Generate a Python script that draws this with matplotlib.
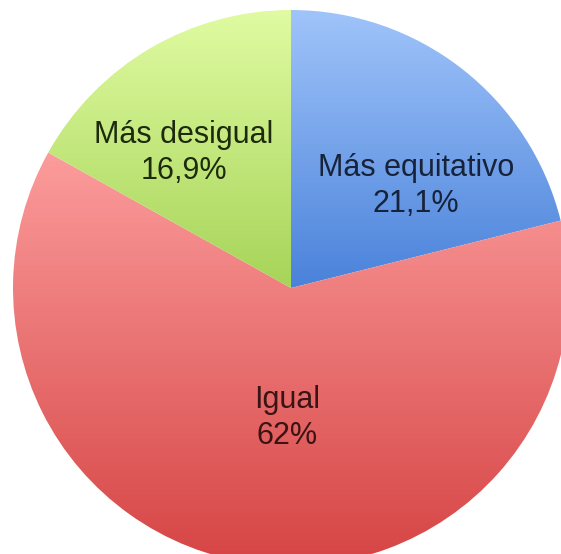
import numpy as np
import matplotlib.pyplot as plt
from matplotlib.colors import LinearSegmentedColormap

labels = ['Más equitativo', 'Igual', 'Más desigual']
values = [21.1, 62.0, 16.9]
pct_text = ['21,1%', '62%', '16,9%']

# gradient colours (top, bottom) for each slice
grad_top = ['#a0c4fa', '#fc9c9c', '#e0fba2']
grad_bot = ['#4a82da', '#d64444', '#a6d458']
text_col = ['#16233a', '#3a1414', '#1e2a0c']

# pixel layout of the original picture
W, H = 561, 554
cx, cy, R = 291, 288, 278
label_px = [(416, 186), (287, 418), (184, 153)]

fig = plt.figure(figsize=(W / 100, H / 100), dpi=100)
ax = fig.add_axes([0, 0, 1, 1])

wedges, _ = ax.pie(values, startangle=90, counterclock=False, radius=1,
                   wedgeprops=dict(linewidth=0))

ax.set_aspect('equal')
ax.axis('off')

grad = np.linspace(1, 0, 256).reshape(-1, 1)
for w, top, bot in zip(wedges, grad_top, grad_bot):
    w.set_facecolor('none')
    ext = w.get_path().get_extents()
    cmap = LinearSegmentedColormap.from_list('g', [bot, top])
    im = ax.imshow(grad, cmap=cmap, aspect='auto', interpolation='bilinear',
                   extent=[ext.x0, ext.x1, ext.y0, ext.y1], vmin=0, vmax=1,
                   zorder=1)
    im.set_clip_path(w)

for (px, py), lab, pct, c in zip(label_px, labels, pct_text, text_col):
    ax.text((px - cx) / R, (cy - py) / R, lab + '\n' + pct,
            ha='center', va='center', fontsize=22, color=c,
            family='Liberation Sans', linespacing=1.22, zorder=3)

ax.set_xlim(-cx / R, (W - cx) / R)
ax.set_ylim(-(H - cy) / R, cy / R)

fig.savefig('out.png', dpi=100)
